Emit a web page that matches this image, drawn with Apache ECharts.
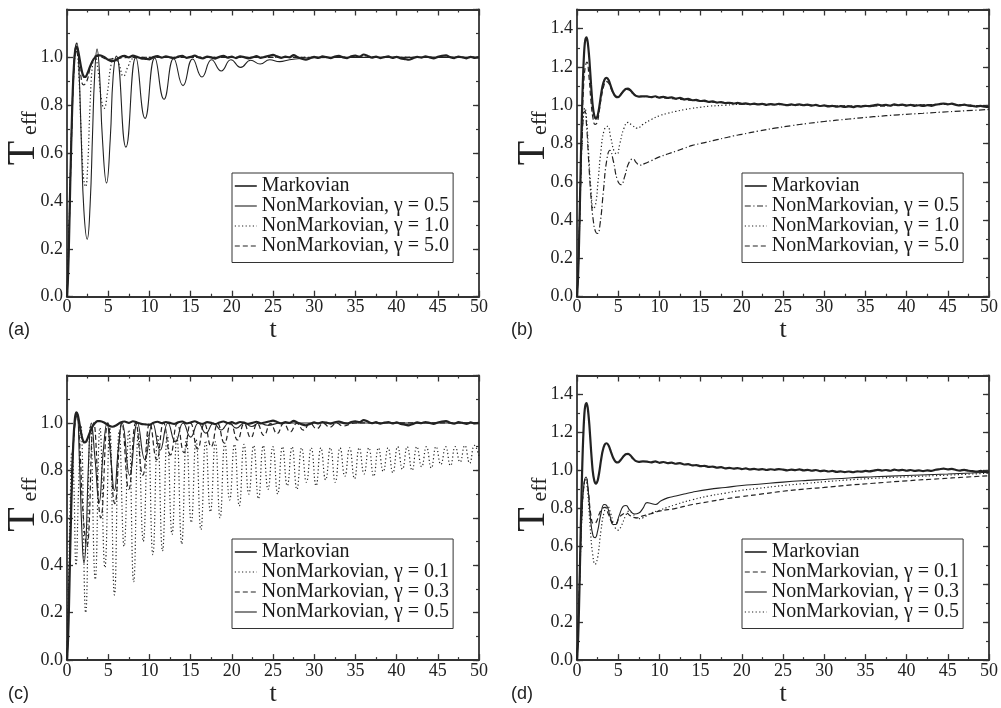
<!DOCTYPE html>
<html><head><meta charset="utf-8">
<script src="https://cdn.jsdelivr.net/npm/echarts/dist/echarts.min.js"></script>
<style>html,body{margin:0;padding:0;background:#fff}#c{width:1001px;height:708px}</style>
</head><body><div id="c"></div>
<script>
// ---------- tick values ----------
const xMin = 0, xMax = 50, xStep = 5;
const yMaxAC = 1.2, yMaxBD = 1.5, yStep = 0.2, yMinorStep = 0.1;

// ---------- Markovian (shared by a/c and b/d) ----------
const markovAC = [[0,0],[0.1,0.06],[0.2,0.17],[0.3,0.32],[0.4,0.48],[0.5,0.62],[0.6,0.75],[0.7,0.86],[0.8,0.94],[0.9,0.995],[1.0,1.03],[1.15,1.045],[1.3,1.035],[1.5,1.0],[1.7,0.96],[1.9,0.93],[2.1,0.918],[2.3,0.92],[2.5,0.935],[2.8,0.962],[3.1,0.985],[3.4,1.0],[3.7,1.008],[4.0,1.008],[4.5,1.002],[5.0,0.99],[5.5,0.984],[6.0,0.99],[6.5,1.002],[7.0,1.006],[7.5,1.0],[8.0,1.007],[8.5,1.002],[9.0,0.996],[9.5,0.994],[10.0,0.992],[10.5,1.001],[11.0,1.005],[11.5,0.999],[12.0,1.004],[12.5,1.0],[13.0,0.996],[13.5,1.003],[14.0,1.006],[14.5,0.998],[15.0,1.002],[15.5,1.007],[16.0,1.0],[16.5,0.996],[17.0,1.003],[17.5,1.0],[18.0,0.995],[18.5,1.002],[19.0,1.006],[19.5,0.999],[20.0,1.003],[20.5,0.997],[21.0,1.004],[21.5,1.001],[22.0,0.996],[22.5,1.0],[23.0,1.005],[23.5,0.998],[24.0,1.002],[24.5,1.006],[25.0,1.01],[25.5,1.004],[26.0,0.998],[26.5,1.003],[27.0,1.0],[27.5,1.009],[28.0,1.001],[28.5,0.994],[29.0,0.99],[29.5,0.996],[30.0,1.002],[30.5,0.998],[31.0,1.004],[31.5,1.001],[32.0,0.997],[32.5,1.003],[33.0,1.006],[33.5,1.0],[34.0,0.997],[34.5,1.004],[35.0,1.007],[35.5,1.003],[36.0,1.012],[36.5,1.006],[37.0,0.999],[37.5,1.003],[38.0,0.997],[38.5,1.001],[39.0,1.004],[39.5,0.998],[40.0,1.002],[40.5,0.996],[41.0,0.993],[41.5,0.99],[42.0,0.996],[42.5,1.002],[43.0,0.999],[43.5,1.004],[44.0,1.0],[44.5,0.996],[45.0,1.002],[45.5,1.006],[46.0,1.008],[46.5,1.001],[47.0,0.997],[47.5,1.003],[48.0,1.0],[48.5,0.996],[49.0,1.002],[49.5,0.998],[50.0,1.0]];

const markovBD = [[0,0],[0.1,0.07],[0.2,0.2],[0.3,0.38],[0.4,0.58],[0.5,0.78],[0.6,0.96],[0.7,1.11],[0.8,1.22],[0.9,1.3],[1.0,1.34],[1.15,1.355],[1.3,1.33],[1.5,1.24],[1.7,1.11],[1.9,1.0],[2.1,0.945],[2.3,0.93],[2.5,0.945],[2.7,0.99],[2.9,1.05],[3.1,1.1],[3.35,1.135],[3.6,1.143],[3.85,1.13],[4.1,1.1],[4.4,1.065],[4.7,1.045],[5.0,1.042],[5.3,1.055],[5.6,1.072],[5.9,1.085],[6.2,1.087],[6.5,1.078],[6.8,1.062],[7.1,1.05],[7.5,1.045],[8.0,1.047],[8.5,1.046],[9.0,1.042],[9.5,1.047],[10.0,1.04],[10.5,1.044],[11.0,1.038],[11.5,1.041],[12.0,1.035],[12.5,1.038],[13.0,1.031],[13.5,1.033],[14.0,1.026],[14.5,1.028],[15.0,1.022],[15.5,1.024],[16.0,1.018],[16.5,1.02],[17.0,1.014],[17.5,1.017],[18.0,1.011],[18.5,1.013],[19.0,1.009],[19.5,1.012],[20.0,1.007],[20.5,1.01],[21.0,1.005],[21.5,1.008],[22.0,1.004],[22.5,1.007],[23.0,1.002],[23.5,1.006],[24.0,1.003],[24.5,1.007],[25.0,1.004],[25.5,1.0],[26.0,1.004],[26.5,1.001],[27.0,1.005],[27.5,1.0],[28.0,1.003],[28.5,0.998],[29.0,1.002],[29.5,0.996],[30.0,0.999],[30.5,0.994],[31.0,0.997],[31.5,0.992],[32.0,0.995],[32.5,0.991],[33.0,0.994],[33.5,0.99],[34.0,0.995],[34.5,0.993],[35.0,0.997],[35.5,0.995],[36.0,0.999],[36.5,1.003],[37.0,0.999],[37.5,1.002],[38.0,0.998],[38.5,1.004],[39.0,1.0],[39.5,1.003],[40.0,0.998],[40.5,1.002],[41.0,0.997],[41.5,1.0],[42.0,0.996],[42.5,1.0],[43.0,0.997],[43.5,1.003],[44.0,1.006],[44.5,1.009],[45.0,1.005],[45.5,1.008],[46.0,1.002],[46.5,0.999],[47.0,1.003],[47.5,0.998],[48.0,0.996],[48.5,0.993],[49.0,0.997],[49.5,0.992],[50.0,0.99]];

// ---------- panel (a) ----------
const a_g05 = [[0,0],[0.2,0.18],[0.4,0.48],[0.6,0.76],[0.8,0.95],[1.0,1.04],[1.2,1.06],[1.45,0.95],[1.75,0.64],[2.05,0.36],[2.45,0.24],[2.8,0.38],[3.1,0.68],[3.35,0.92],[3.65,1.035],[3.95,0.93],[4.3,0.66],[4.8,0.475],[5.25,0.66],[5.6,0.92],[6.0,1.005],[7.15,0.625],[8.35,1.0],[9.47,0.745],[10.65,0.998],[11.77,0.825],[12.95,0.995],[14.08,0.882],[15.25,0.993],[16.38,0.918],[17.55,0.99],[18.72,0.943],[19.9,0.99],[21.08,0.958],[22.3,0.988],[23.45,0.972],[24.6,0.99],[25.8,0.982],[27,0.99],[28.5,0.996],[30,0.999],[35,1.0],[40,1.0],[45,1.0],[50,1.0]];
const a_g10 = [[0,0],[0.3,0.35],[0.6,0.75],[0.9,0.98],[1.15,1.03],[1.4,0.95],[1.7,0.7],[2.0,0.5],[2.25,0.46],[2.5,0.54],[2.8,0.8],[3.1,0.97],[3.4,1.005],[3.75,0.95],[4.15,0.83],[4.5,0.787],[4.9,0.85],[5.3,0.96],[5.7,1.0],[6.25,0.975],[6.85,0.922],[7.45,0.965],[8.0,0.995],[9,1.0],[10,1.0],[15,1.0],[20,1.0],[30,1.0],[40,1.0],[50,1.0]];
const a_g50 = [[0,0],[0.3,0.33],[0.6,0.72],[0.85,0.95],[1.1,1.03],[1.35,1.0],[1.65,0.93],[2.0,0.885],[2.4,0.9],[2.85,0.96],[3.3,0.995],[3.8,1.005],[5,0.992],[6,0.996],[8,1.0],[15,1.0],[25,1.0],[35,1.0],[50,1.0]];

// ---------- panel (b) ----------
const b_g05 = [[0,0],[0.2,0.2],[0.4,0.52],[0.6,0.8],[0.8,0.95],[0.95,0.97],[1.15,0.9],[1.4,0.72],[1.7,0.52],[2.0,0.39],[2.25,0.34],[2.5,0.33],[2.8,0.38],[3.2,0.55],[3.6,0.71],[4.0,0.765],[4.4,0.71],[4.9,0.61],[5.35,0.585],[5.8,0.63],[6.3,0.7],[6.8,0.72],[7.2,0.7],[7.6,0.687],[8.2,0.695],[9,0.71],[10,0.73],[11,0.745],[12,0.76],[13,0.775],[14,0.79],[15,0.8],[16,0.81],[17,0.82],[18,0.83],[19,0.84],[20,0.848],[22,0.865],[24,0.88],[26,0.893],[28,0.905],[30,0.915],[33,0.928],[36,0.94],[39,0.95],[42,0.958],[45,0.966],[48,0.973],[50,0.978]];
const b_g10 = [[0,0],[0.2,0.22],[0.4,0.55],[0.6,0.82],[0.8,0.96],[0.95,0.985],[1.15,0.93],[1.4,0.76],[1.7,0.56],[2.0,0.46],[2.25,0.48],[2.55,0.6],[2.9,0.76],[3.3,0.87],[3.7,0.89],[4.1,0.83],[4.5,0.76],[4.85,0.745],[5.2,0.8],[5.7,0.88],[6.2,0.91],[6.7,0.895],[7.3,0.88],[8.0,0.9],[9.0,0.925],[10,0.945],[11,0.958],[12,0.968],[13,0.977],[14,0.984],[15,0.99],[16,0.995],[18,1.0],[20,1.005],[22,1.004],[25,1.003],[30,0.998],[35,0.996],[40,1.0],[45,1.004],[50,0.992]];
const b_g50 = [[0,0],[0.2,0.2],[0.4,0.55],[0.6,0.88],[0.8,1.1],[1.0,1.2],[1.2,1.225],[1.45,1.15],[1.7,1.02],[1.95,0.93],[2.2,0.9],[2.45,0.91],[2.7,0.97],[2.95,1.04],[3.25,1.1],[3.55,1.125],[3.85,1.115],[4.2,1.08],[4.6,1.05],[5.0,1.045],[5.5,1.068],[6.0,1.083],[6.5,1.075],[7.0,1.055],[7.5,1.045],[8.5,1.044],[10,1.04],[12,1.033],[14,1.025],[16,1.018],[18,1.012],[20,1.008],[25,1.004],[30,0.998],[35,0.996],[40,1.0],[45,1.004],[50,0.992]];

// ---------- panel (c) ----------
const c_g01 = [[0,0],[0.2,0.35],[0.4,0.68],[0.6,0.88],[0.8,0.78],[1.1,0.4],[1.4,0.72],[1.68,0.99],[2.27,0.2],[2.85,0.99],[3.43,0.34],[4.0,0.98],[4.6,0.39],[5.18,0.98],[5.76,0.275],[6.34,0.97],[6.93,0.48],[7.5,0.97],[8.09,0.33],[8.67,0.96],[9.26,0.5],[9.84,0.96],[10.42,0.445],[11.0,0.95],[11.59,0.46],[12.17,0.95],[12.75,0.53],[13.33,0.94],[13.92,0.49],[14.5,0.935],[15.08,0.58],[15.66,0.93],[16.25,0.55],[16.83,0.925],[17.41,0.625],[18.0,0.92],[18.58,0.6],[19.16,0.915],[19.74,0.675],[20.32,0.91],[20.91,0.65],[21.49,0.91],[22.07,0.7],[22.65,0.905],[23.24,0.68],[23.82,0.905],[24.4,0.72],[24.98,0.9],[25.57,0.7],[26.15,0.9],[26.73,0.735],[27.31,0.9],[27.9,0.72],[28.48,0.895],[29.06,0.75],[29.64,0.895],[30.23,0.735],[30.81,0.895],[31.39,0.76],[31.97,0.895],[32.56,0.75],[33.14,0.895],[33.72,0.775],[34.3,0.895],[34.89,0.765],[35.47,0.895],[36.05,0.785],[36.63,0.895],[37.22,0.775],[37.8,0.895],[38.38,0.795],[38.96,0.895],[39.55,0.79],[40.13,0.9],[40.71,0.805],[41.29,0.9],[41.88,0.8],[42.46,0.9],[43.04,0.815],[43.62,0.9],[44.21,0.81],[44.79,0.9],[45.37,0.825],[45.95,0.9],[46.54,0.82],[47.12,0.9],[47.7,0.835],[48.28,0.905],[48.87,0.83],[49.45,0.905],[50,0.86]];
const c_g03 = [[0,0],[0.3,0.38],[0.6,0.76],[0.9,0.97],[1.2,1.03],[1.55,0.9],[1.95,0.62],[2.4,0.48],[3.25,1.0],[4.1,0.6],[4.95,1.0],[5.8,0.66],[6.65,1.0],[7.5,0.72],[8.35,1.0],[9.2,0.78],[10.05,1.0],[10.9,0.845],[11.72,1.0],[12.55,0.865],[13.38,0.998],[14.2,0.875],[15.02,0.998],[15.85,0.89],[16.68,0.997],[17.5,0.9],[18.3,0.997],[19.1,0.915],[19.9,0.997],[20.7,0.928],[21.5,0.997],[22.3,0.938],[23.1,0.997],[23.9,0.947],[24.7,0.997],[25.5,0.955],[26.3,0.998],[27.1,0.962],[27.9,0.998],[28.7,0.97],[29.5,0.998],[30.3,0.976],[31.1,0.998],[31.9,0.982],[32.7,0.999],[33.5,0.987],[35,1.0],[40,1.0],[45,1.0],[50,1.0]];
const c_g05 = [[0,0],[0.3,0.4],[0.6,0.78],[0.9,0.98],[1.2,1.04],[1.5,0.85],[1.8,0.55],[2.06,0.41],[2.3,0.5],[2.6,0.82],[2.95,1.0],[3.4,0.85],[3.9,0.665],[4.4,0.88],[4.85,1.0],[5.3,0.86],[5.75,0.715],[6.25,0.9],[6.7,1.0],[7.6,0.78],[8.55,1.0],[9.45,0.845],[10.4,1.0],[11.3,0.885],[12.25,1.0],[13.15,0.92],[14.1,1.0],[15.0,0.94],[15.95,1.0],[16.85,0.957],[17.8,1.0],[18.7,0.97],[19.65,1.0],[20.55,0.978],[21.5,1.0],[22.4,0.985],[23.3,1.0],[24.3,0.99],[26,1.0],[30,1.0],[35,1.0],[40,1.0],[45,1.0],[50,1.0]];

// ---------- panel (d) ----------
const d_g01 = [[0,0],[0.3,0.4],[0.6,0.78],[0.9,0.94],[1.1,0.96],[1.35,0.9],[1.7,0.76],[2.0,0.72],[2.3,0.725],[2.7,0.77],[3.1,0.8],[3.4,0.805],[3.8,0.77],[4.3,0.725],[4.7,0.72],[5.1,0.75],[5.6,0.77],[6.0,0.775],[6.5,0.76],[7.2,0.75],[8,0.76],[9,0.772],[10,0.785],[12,0.8],[14,0.82],[16,0.835],[18,0.85],[20,0.862],[22,0.873],[25,0.89],[28,0.903],[30,0.91],[33,0.922],[36,0.932],[40,0.945],[44,0.956],[47,0.964],[50,0.972]];
const d_g03 = [[0,0],[0.3,0.4],[0.6,0.78],[0.85,0.93],[1.1,0.965],[1.35,0.9],[1.65,0.74],[1.95,0.655],[2.2,0.645],[2.5,0.68],[2.9,0.77],[3.3,0.82],[3.6,0.815],[4.0,0.76],[4.4,0.715],[4.7,0.715],[5.1,0.76],[5.6,0.81],[5.95,0.815],[6.4,0.79],[7.0,0.77],[7.5,0.775],[8.0,0.8],[8.5,0.83],[9.0,0.825],[9.5,0.82],[10.2,0.84],[11,0.855],[12,0.865],[13,0.875],[14,0.885],[16,0.9],[18,0.91],[20,0.92],[22,0.927],[25,0.938],[28,0.947],[30,0.952],[33,0.96],[36,0.966],[40,0.973],[45,0.981],[50,0.99]];
const d_g05 = [[0,0],[0.3,0.38],[0.6,0.76],[0.85,0.92],[1.05,0.95],[1.3,0.88],[1.6,0.7],[1.9,0.56],[2.2,0.505],[2.5,0.54],[2.9,0.68],[3.3,0.78],[3.7,0.81],[4.1,0.77],[4.6,0.7],[5.0,0.685],[5.4,0.71],[5.9,0.76],[6.3,0.785],[6.8,0.77],[7.4,0.745],[8,0.75],[9,0.775],[10,0.79],[12,0.82],[14,0.845],[16,0.865],[18,0.88],[20,0.895],[22,0.905],[25,0.92],[28,0.932],[30,0.94],[33,0.95],[36,0.958],[40,0.966],[45,0.975],[50,0.985]];

// ---------- layout / styles ----------
const INK = '#222';
const DASH = {solid: 'solid', dotted: [1.2, 2.4], dashed: [5, 3], dashdot: [6, 2.5, 1.2, 2.5]};
const panels = [
  {id:'a', left:67, top:9.5, height:287.2, ymax:yMaxAC, lgLeft:232, lgTop:173, tag:'(a)', tagX:8, tagY:330, lines:[
    ['Markovian', markovAC, 'solid', 2.2],
    ['NonMarkovian, γ = 0.5', a_g05, 'solid', 1.1],
    ['NonMarkovian, γ = 1.0', a_g10, 'dotted', 1.2],
    ['NonMarkovian, γ = 5.0', a_g50, 'dashed', 1.2]]},
  {id:'b', left:577, top:9.5, height:287.2, ymax:yMaxBD, lgLeft:742, lgTop:173, tag:'(b)', tagX:511, tagY:330, lines:[
    ['Markovian', markovBD, 'solid', 2.2],
    ['NonMarkovian, γ = 0.5', b_g05, 'dashdot', 1.2],
    ['NonMarkovian, γ = 1.0', b_g10, 'dotted', 1.2],
    ['NonMarkovian, γ = 5.0', b_g50, 'dashed', 1.2]]},
  {id:'c', left:67, top:375.5, height:288, ymax:yMaxAC, lgLeft:232, lgTop:539, tag:'(c)', tagX:8, tagY:694, lines:[
    ['Markovian', markovAC, 'solid', 2.2],
    ['NonMarkovian, γ = 0.1', c_g01, 'dotted', 1.2],
    ['NonMarkovian, γ = 0.3', c_g03, 'dashed', 1.2],
    ['NonMarkovian, γ = 0.5', c_g05, 'solid', 1.1]]},
  {id:'d', left:577, top:375.5, height:288, ymax:yMaxBD, lgLeft:742, lgTop:539, tag:'(d)', tagX:511, tagY:694, lines:[
    ['Markovian', markovBD, 'solid', 2.2],
    ['NonMarkovian, γ = 0.1', d_g01, 'dashed', 1.2],
    ['NonMarkovian, γ = 0.3', d_g03, 'solid', 1.1],
    ['NonMarkovian, γ = 0.5', d_g05, 'dotted', 1.2]]}
];

const SERIF = 'Liberation Serif';
const axisLine = {show:true, onZero:false, lineStyle:{color:'#333', width:1.8}};
const majorTick = {show:true, inside:true, length:6, lineStyle:{color:'#333', width:1.3}};
const minorTick = {show:true, splitNumber:2, length:3, lineStyle:{color:'#333', width:1.2}};
const tickFont = {color:INK, fontFamily:SERIF, fontSize:18, fontWeight:'normal'};

const grid = [], xAxis = [], yAxis = [], series = [], legend = [], graphic = [];
panels.forEach((p, i) => {
  grid.push({left:p.left, top:p.top, width:412, height:p.height, containLabel:false});
  xAxis.push({type:'value', gridIndex:i, position:'bottom', min:xMin, max:xMax, interval:xStep,
    axisLine, axisTick:majorTick, minorTick, splitLine:{show:false},
    axisLabel:Object.assign({show:true, margin:2, textStyle:tickFont}, tickFont),
    name:'t', nameLocation:'middle', nameGap:14, nameTextStyle:{fontFamily:SERIF, fontSize:26, color:INK}});
  xAxis.push({type:'value', gridIndex:i, position:'top', min:xMin, max:xMax, interval:xStep,
    axisLine, axisTick:majorTick, minorTick, splitLine:{show:false}, axisLabel:{show:false}});
  yAxis.push({type:'value', gridIndex:i, position:'left', min:0, max:p.ymax, interval:yStep,
    axisLine, axisTick:majorTick, splitLine:{show:false},
    axisLabel:Object.assign({show:true, margin:4, showMaxLabel:false, formatter: v => v.toFixed(1), textStyle:tickFont}, tickFont)});
  yAxis.push({type:'value', gridIndex:i, position:'right', min:0, max:p.ymax, interval:yStep,
    axisLine, axisTick:majorTick, splitLine:{show:false}, axisLabel:{show:false}});
  ['left','right'].forEach(pos => yAxis.push({type:'value', gridIndex:i, position:pos, min:0, max:p.ymax, interval:yMinorStep,
    axisLine:{show:false, onZero:false}, axisTick:{show:true, inside:true, length:3, lineStyle:{color:'#333', width:1.2}},
    splitLine:{show:false}, axisLabel:{show:false}}));

  const order = [1,2,3,0];
  order.forEach(k => {
    const [nm, data, dash, w] = p.lines[k];
    series.push({name: p.id + '|' + nm, type:'line', xAxisIndex:2*i, yAxisIndex:4*i, data,
      symbol:'none', showSymbol:false, smooth: k === 0 ? 0.25 : 0.5, animation:false, z: k === 0 ? 5 : 3,
      itemStyle:{color:INK}, lineStyle:{color:INK, width:w, type:DASH[dash]}});
  });
  const names = p.lines.map(l => ({name: p.id + '|' + l[0], lineStyle:{width: Math.min(l[3], 1.6)}, itemStyle:{opacity:0, borderWidth:0}}));
  legend.push({show:true, orient:'vertical', left:p.lgLeft, top:p.lgTop, data:names, selectedMode:false,
    formatter: n => n.split('|')[1], itemWidth:22, itemHeight:12, itemGap:0,
    itemStyle:{opacity:0, borderWidth:0},
    padding:[3,4,6.5,2], borderColor:'#333', borderWidth:1, backgroundColor:'#fff',
    textStyle:{fontFamily:SERIF, fontSize:20, color:'#1a1a1a'}});

  const cy = p.top + p.height / 2;
  const xo = p.left - 67;
  graphic.push({type:'text', x:xo + 23.5, y:cy, rotation:Math.PI/2,
    style:{text:'T', font:'40px "Liberation Serif"', fill:INK, textAlign:'center', textVerticalAlign:'middle', align:'center', verticalAlign:'middle'}});
  graphic.push({type:'text', x:xo + 30.6, y:cy - 30, rotation:Math.PI/2,
    style:{text:'eff', font:'22px "Liberation Serif"', fill:INK, textAlign:'center', textVerticalAlign:'middle', align:'center', verticalAlign:'middle'}});
  graphic.push({type:'text', x:p.tagX, y:p.tagY,
    style:{text:p.tag, font:'18px "Liberation Sans"', fill:INK, textAlign:'left', textVerticalAlign:'middle', align:'left', verticalAlign:'middle'}});
});

const chart = echarts.init(document.getElementById('c'), null, {renderer:'canvas'});
chart.setOption({backgroundColor:'#fff', animation:false, textStyle:{fontFamily:SERIF},
  grid, xAxis, yAxis, series, legend, graphic});
</script></body></html>
